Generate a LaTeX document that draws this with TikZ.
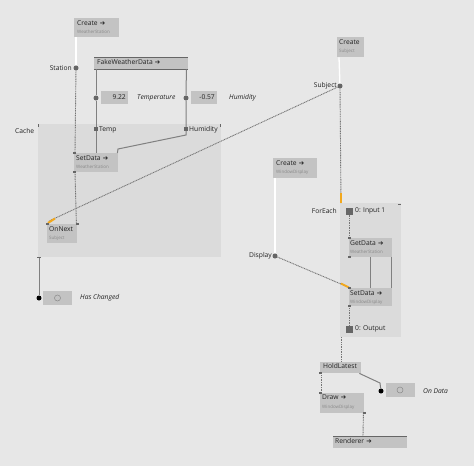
\documentclass[tikz,border=0pt]{standalone}
\usepackage{fontspec}
\setmainfont{Open Sans}
\newfontfamily\symf{DejaVu Sans}
\usetikzlibrary{calc}
\definecolor{bg}{HTML}{E7E7E7}
\definecolor{region}{HTML}{DBDBDB}
\definecolor{nodefill}{HTML}{C3C3C3}
\definecolor{pinc}{HTML}{666666}
\definecolor{linkc}{HTML}{808080}
\definecolor{txt}{HTML}{222222}
\definecolor{subtxt}{HTML}{8A8A8A}
\definecolor{orng}{HTML}{F2A81D}
\newcommand{\arr}{{\symf\fontsize{6.5}{6.5}\selectfont\,\,➔}}
\tikzset{
  x=1pt, y=-1pt,
  box/.style={fill=nodefill, draw=none, inner sep=0pt, anchor=north west},
  ttl/.style={inner sep=0pt, anchor=north west, text=txt, font=\fontsize{6.7}{7}\selectfont},
  sub/.style={inner sep=0pt, anchor=north west, text=subtxt, font=\fontsize{4.5}{5}\selectfont},
  lbl/.style={inner sep=0pt, text=txt, font=\fontsize{6.7}{7}\selectfont},
  ilbl/.style={inner sep=0pt, anchor=west, text=txt, font=\fontsize{6.7}{7}\selectfont\itshape},
  dotpin/.style={circle, fill=pinc, inner sep=0pt, minimum size=5pt},
  blackpin/.style={circle, fill=black, inner sep=0pt, minimum size=5pt},
  sqpin/.style={rectangle, fill=pinc, inner sep=0pt, minimum size=4pt},
  bigsq/.style={rectangle, fill=pinc, inner sep=0pt, minimum size=7pt},
  solidlink/.style={draw=linkc, line width=1pt},
  dotlink/.style={draw=pinc!90, line width=0.9pt, dash pattern=on 1pt off 0.7pt},
  whitelink/.style={draw=white, line width=1.3pt},
  orangeend/.style={draw=orng, line width=2pt},
  tick/.style={draw=pinc, line width=1pt},
}
\begin{document}
\begin{tikzpicture}
\useasboundingbox (0,0) rectangle (474,466);
\fill[bg] (0,0) rectangle (474,466);
% regions
\fill[region] (38,124) rectangle (221,257);
\fill[region] (340,203) rectangle (401,337);
\draw[tick] (38,124) -- (38,127); \draw[tick] (220,124) -- (220,127);
\draw[tick] (398,204) -- (401,204);
\node[lbl, anchor=west] (cachel) at (15,131) {Cache};
\node[lbl, anchor=east] (foreachl) at (337,211) {ForEach};

% nodes
\node[box, minimum width=45pt, minimum height=19pt] (cws) at (74,18) {};
\node[ttl] (cwst) at (77,20) {Create\arr};
\node[sub] (cwss) at (77,30) {WeatherStation};

\node[box, minimum width=94pt, minimum height=12pt] (fwd) at (94,57) {};
\draw[pinc, line width=1pt] (fwd.north west) -- (fwd.north east);
\draw[pinc, line width=1pt] (fwd.south west) -- (fwd.south east);
\node[ttl] (fwdt) at (97,59) {FakeWeatherData\arr};

\node[box, minimum width=27pt, minimum height=13pt] (iob1) at (101,91) {};
\node[lbl, anchor=east] (iob1t) at (126,97.5) {9.22};
\node[box, minimum width=26pt, minimum height=13pt] (iob2) at (191,91) {};
\node[lbl, anchor=east] (iob2t) at (215,97.5) {-0.57};

\node[box, minimum width=44pt, minimum height=19pt] (sd1) at (74,153) {};
\node[ttl] (sd1t) at (76,155) {SetData\arr};
\node[sub] (sd1s) at (76,165) {WeatherStation};

\node[box, minimum width=30pt, minimum height=19pt] (onn) at (47,224) {};
\node[ttl] (onnt) at (49,226) {OnNext};
\node[sub] (onns) at (49,236) {Subject};

\node[box, minimum width=29pt, minimum height=14pt] (hcb) at (43,291) {};
\node[circle, draw=subtxt, line width=0.5pt, inner sep=0pt, minimum size=6pt] (hcc) at (57.5,298) {};

\node[box, minimum width=27pt, minimum height=20pt] (csub) at (337,37) {};
\node[ttl] (csubt) at (339,39) {Create};
\node[sub] (csubs) at (339,49) {Subject};

\node[box, minimum width=44pt, minimum height=20pt] (cwd) at (273,158) {};
\node[ttl] (cwdt) at (276,160) {Create\arr};
\node[sub] (cwds) at (276,170) {WindowDisplay};

\node[box, minimum width=43pt, minimum height=19pt] (gd) at (349,238) {};
\node[ttl] (gdt) at (350,240) {GetData\arr};
\node[sub] (gds) at (350,250) {WeatherStation};

\node[box, minimum width=43pt, minimum height=18pt] (sd2) at (349,288) {};
\node[ttl] (sd2t) at (350,290) {SetData\arr};
\node[sub] (sd2s) at (350,300) {WindowDisplay};

\node[box, minimum width=41pt, minimum height=11pt] (hold) at (320,362) {};
\node[ttl] (holdt) at (323,363.5) {HoldLatest};

\node[box, minimum width=29pt, minimum height=14pt] (odb) at (386,383) {};
\node[circle, draw=subtxt, line width=0.5pt, inner sep=0pt, minimum size=6pt] (odc) at (400,390) {};

\node[box, minimum width=44pt, minimum height=20pt] (drw) at (320,393) {};
\node[ttl] (drwt) at (322,395) {Draw\arr};
\node[sub] (drws) at (322,405) {WindowDisplay};

\node[box, minimum width=74pt, minimum height=12pt] (rend) at (333,436) {};
\draw[pinc, line width=1pt] (rend.north west) -- (rend.north east);
\node[ttl] (rendt) at (335,438) {Renderer\arr};

% pins
\node[dotpin] (station) at (76,68) {};
\node[lbl, anchor=east] (stationl) at (72,68) {Station};
\node[dotpin] (tdot) at (96,98) {};
\node[dotpin] (hdot) at (186,98) {};
\node[ilbl] (templ) at (137,98) {Temperature};
\node[ilbl] (huml) at (229,98) {Humidity};
\node[sqpin] (temp) at (96,129) {};
\node[lbl, anchor=west] (tempt) at (99,130) {Temp};
\node[sqpin] (hum) at (186,129) {};
\node[lbl, anchor=west] (humt) at (189,130) {Humidity};
\node[blackpin] (hcdot) at (39,298) {};
\node[ilbl] (hcl) at (80,298) {Has Changed};
\node[dotpin] (subj) at (340,86) {};
\node[lbl, anchor=east] (subjl) at (337,86) {Subject};
\node[dotpin] (disp) at (275,256) {};
\node[lbl, anchor=east] (displ) at (272,256) {Display};
\node[bigsq] (inp) at (349,211) {};
\node[lbl, anchor=west] (inpl) at (355,211) {0: Input 1};
\node[bigsq] (outp) at (349,329) {};
\node[lbl, anchor=west] (outpl) at (355,329) {0: Output};
\node[blackpin] (oddot) at (381,391) {};
\node[ilbl] (odl) at (423,391) {On Data};
\coordinate (cachebot) at (39,257);
\coordinate (febot) at (341,337);
\coordinate (fetop) at (341,203);

% links
\draw[whitelink] ($(cws.south west)+(2,0)$) -- (station);
\draw[whitelink] ($(csub.south west)+(2,0)$) -- (subj);
\draw[whitelink] ($(cwd.south west)+(2,0)$) -- (disp);
\draw[dotlink] (station) -- ($(sd1.north west)+(1,0)$);
\draw[dotlink] ($(sd1.south west)+(1,0)$) -- ($(onn.north east)+(-1,0)$);
\draw[solidlink] ($(fwd.south west)+(2,0)$) -- (tdot) -- (temp) -- ($(sd1.north west)+(22,0)$);
\draw[solidlink] ($(fwd.south east)+(-2,0)$) -- (hdot) -- (hum);
\draw[solidlink] (hum) -- (186,135) -- (118,149) -- ($(sd1.north east)+(-1,0)$);
\draw[dotlink] (subj) -- ($(onn.north west)+(2,-3)$);
\draw[orangeend] (55,218.5) -- ($(onn.north west)+(1,-1)$);
\draw[dotlink] (subj) -- (fetop);
\draw[orangeend] (341,193) -- (fetop);
\draw[dotlink] (disp) -- ($(sd2.north west)+(-1,-1)$);
\draw[orangeend] (341,283.5) -- ($(sd2.north west)+(0,-0.5)$);
\draw[dotlink] (inp) -- (gd.north west);
\draw[solidlink] ($(gd.south west)+(21,0)$) -- ($(sd2.north west)+(21,0)$);
\draw[solidlink] ($(gd.south east)+(-1,0)$) -- ($(sd2.north east)+(-1,0)$);
\draw[dotlink] (sd2.south west) -- (outp);
\draw[dotlink] (febot) -- ($(hold.north west)+(21,0)$);
\draw[solidlink] ($(hold.south east)+(-2,0)$) -- (380,383) -- (oddot);
\draw[dotlink] ($(hold.south west)+(1,0)$) -- ($(drw.north west)+(1,0)$);
\draw[dotlink] ($(drw.south east)+(-1,0)$) -- ($(rend.north west)+(30,0)$);
\draw[solidlink] (cachebot) -- (hcdot);
\draw[tick] (37,257) -- (41,257);
% node corner ticks
\foreach \p in {sd1.north west, sd1.south west, onn.north west, onn.north east, gd.north west, gd.south west, sd2.north west, sd2.south west, hold.south west, drw.north west, drw.south east}
  \fill[pinc] ($(\p)+(-1.5,-1)$) rectangle ++(3,2);
\end{tikzpicture}
\end{document}
